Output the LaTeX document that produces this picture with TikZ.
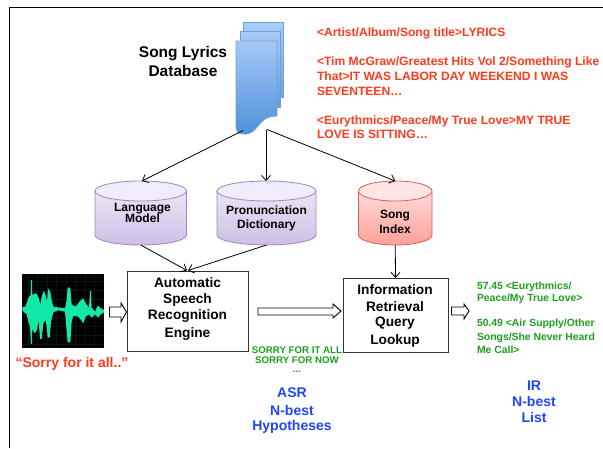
\documentclass[tikz,border=0pt]{standalone}
\usepackage{fontspec}
\setmainfont{Liberation Sans}
\usetikzlibrary{arrows.meta}
\definecolor{redtxt}{HTML}{FF3B1E}
\definecolor{greentxt}{HTML}{1EA01E}
\definecolor{bluetxt}{HTML}{1F45FF}
\definecolor{wavec}{HTML}{12E8A8}
\definecolor{gridc}{HTML}{06141C}
\definecolor{sheetb}{HTML}{6EA0D7}
\definecolor{sheettopa}{HTML}{AACDF8}
\definecolor{sheetbota}{HTML}{6EA3E2}
\definecolor{sheettopb}{HTML}{A8CBF7}
\definecolor{sheetbotb}{HTML}{649BDE}
\definecolor{sheettopc}{HTML}{A5C9F7}
\definecolor{sheetbotc}{HTML}{4E90DA}
\definecolor{purtop}{HTML}{F1ECF9}
\definecolor{purbot}{HTML}{CDBFE4}
\definecolor{purb}{HTML}{9C87BF}
\definecolor{redtop}{HTML}{FFE6E4}
\definecolor{redbot}{HTML}{FF9F99}
\definecolor{redb}{HTML}{D8625C}
\tikzset{
  conn/.style={draw=black,line width=0.8pt,-{Straight Barb[length=5pt,width=9pt,line width=0.8pt]}},
  boxed/.style={draw=black!80,line width=1pt,fill=white,inner sep=0pt,outer sep=0pt},
  blockarrow/.style={draw=black,line width=0.9pt,fill=white,line join=miter},
  sheet/.style={draw=sheetb,line width=0.8pt},
  lab/.style={font=\bfseries\fontsize{#1}{#1}\selectfont,inner sep=0pt,outer sep=0pt},
  holder/.style={inner sep=0pt,outer sep=0pt},
}
% name, x1, x2, top, bottom, topcol, botcol, border
\newcommand{\cylinder}[8]{%
  \pgfmathsetmacro{\cxm}{(#2+#3)/2}%
  \pgfmathsetmacro{\cxr}{(#3-#2)/2}%
  \pgfmathsetmacro{\cym}{(#4+#5)/2}%
  \pgfmathsetmacro{\cw}{#3-#2}%
  \pgfmathsetmacro{\ch}{#5-#4}%
  \shade[top color=#6,bottom color=#7]
    (#2,#4+10) arc[start angle=180,end angle=360,x radius=\cxr,y radius=10]
    -- (#3,#5-10) arc[start angle=0,end angle=180,x radius=\cxr,y radius=10] -- cycle;
  \draw[#8,line width=0.8pt]
    (#2,#4+10) -- (#2,#5-10) arc[start angle=180,end angle=0,x radius=\cxr,y radius=10] -- (#3,#4+10);
  \draw[#8,line width=0.8pt,fill=#6] (\cxm,#4+10) ellipse[x radius=\cxr,y radius=10];
  \node[holder,minimum width=\cw pt,minimum height=\ch pt] (#1) at (\cxm,\cym) {};
}
\begin{document}
\begin{tikzpicture}[x=1pt,y=-1pt]
\useasboundingbox (0,0) rectangle (603,448);
\fill[white] (0,0) rectangle (603,448);
% frame
\draw[black,line width=1.2pt] (9.5,448) -- (9.5,7.5) -- (603,7.5);
% database sheets
\shade[top color=sheettopa,bottom color=sheetbota] (243,22) rectangle (283,97);
\draw[sheet] (243,22) rectangle (283,97);
\shade[top color=sheettopb,bottom color=sheetbotb] (240,31) rectangle (280,107);
\draw[sheet] (240,31) rectangle (280,107);
\shade[top color=sheettopc,bottom color=sheetbotc]
  (236,41) -- (277,41) -- (277,116) .. controls (266,116) and (262,121) .. (258,126)
  .. controls (254,132) and (248,135) .. (243,134) .. controls (238,134) and (236,131) .. (236,128) -- cycle;
\draw[sheet]
  (236,41) -- (277,41) -- (277,116) .. controls (266,116) and (262,121) .. (258,126)
  .. controls (254,132) and (248,135) .. (243,134) .. controls (238,134) and (236,131) .. (236,128) -- cycle;
\coordinate (docl) at (243,130.5);
\coordinate (docm) at (266,129.5);
\coordinate (docr) at (267,129.5);
\node[lab=15.5,align=center] (dbtitle) at (183,61.5) {Song Lyrics\\[3.5pt]Database};
% cylinders
\cylinder{lm}{95}{186.5}{181}{245}{purtop}{purbot}{purb}
\cylinder{pd}{217}{316}{181}{245}{purtop}{purbot}{purb}
\cylinder{si}{358.5}{432}{181}{245}{redtop}{redbot}{redb}
\node[lab=12,align=center] (lmtxt) at (142.5,213) {Language\\[-1.5pt]Model};
\node[lab=12,align=center] (pdtxt) at (266.5,218) {Pronunciation\\[2pt]Dictionary};
\node[lab=12,align=center] (sitxt) at (395,221.5) {Song\\[3pt]Index};
% boxes
\node[boxed,minimum width=121pt,minimum height=80pt] (asr) at (187.5,311) {};
\node[boxed,minimum width=105pt,minimum height=74pt] (ir) at (395.5,315) {};
\node[lab=13.7] (asr1) at (187.5,283) {Automatic};
\node[lab=13.7] (asr2) at (187.5,300) {Speech};
\node[lab=13.7] (asr3) at (187.5,316) {Recognition};
\node[lab=13.7] (asr4) at (187.5,334) {Engine};
\node[lab=13.7] (ir1) at (395,290) {Information};
\node[lab=13.7] (ir2) at (395,307) {Retrieval};
\node[lab=13.7] (ir3) at (395,323) {Query};
\node[lab=13.7] (ir4) at (395,341) {Lookup};
% connectors
\draw[conn] (docl) -- (142,181);
\draw[conn] (docm) -- (pd.north -| docm);
\draw[conn] (docr) -- (si.north);
\draw[conn] (lm.south) -- (187,270.5);
\draw[conn] (pd.south) -- (188,270.5);
\draw[conn] (si.south) -- (ir.north);
% waveform
\node[holder,fill=black,minimum width=82pt,minimum height=74pt] (wave) at (63,311) {};
\begin{scope}
  \clip (22,274) rectangle (104,348);
  \foreach \gx in {28,37.5,47,56.5,66,75.5,85,94.5}
    \draw[gridc,line width=0.5pt] (\gx,274) -- (\gx,348);
  \foreach \gy in {281,290,299,308,317,326,335,344}
    \draw[gridc,line width=0.5pt] (22,\gy) -- (104,\gy);
\end{scope}
\begin{scope}[shift={(15,265)},x=0.3333pt,y=-0.3333pt]
\fill[wavec] (22,127)--(32,124)--(38,105)--(44,92)--(47,92)--(48,45)--(51,45)--(52,90)--(60,85)--(66,88)--(72,100)--(76,120)--(80,95)--(86,78)--(92,90)--(96,110)--(99,70)--(106,80)--(110,105)--(115,125)--(135,128)--(150,130)--(155,105)--(158,68)--(166,68)--(170,118)--(182,125)--(195,108)--(205,100)--(212,115)--(222,128)--(225,78)--(228,78)--(230,128)--(240,140)--(248,122)--(255,128)--(267,135)
--(267,142)--(255,150)--(250,158)--(240,148)--(230,158)--(222,148)--(212,155)--(205,175)--(198,165)--(190,155)--(175,152)--(170,170)--(166,232)--(158,232)--(153,175)--(150,140)--(130,136)--(115,142)--(108,170)--(104,218)--(98,218)--(95,185)--(92,165)--(85,175)--(80,222)--(75,222)--(71,165)--(66,195)--(58,205)--(52,190)--(51,237)--(48,237)--(45,185)--(40,170)--(35,148)--(22,137)--cycle;
\end{scope}
% block arrows
\draw[blockarrow] (109.5,307) -- (121,307) -- (121,303) -- (126.5,312) -- (121,322) -- (121,317) -- (109.5,317) -- cycle;
\draw[blockarrow] (258,308) -- (333,308) -- (333,304) -- (341,311) -- (333,318) -- (333,315) -- (258,315) -- cycle;
\draw[blockarrow] (451.5,307) -- (464,307) -- (464,304) -- (469,311) -- (464,319) -- (464,315) -- (451.5,315) -- cycle;
% red texts
\node[inner sep=0pt,outer sep=0pt,text=redtxt,align=left,anchor=west,font=\bfseries\fontsize{12.1}{14.6}\selectfont] (lyrics) at (317,83.5) {<Artist/Album/Song title>LYRICS\\ \\<Tim McGraw/Greatest Hits Vol 2/Something Like\\That>IT WAS LABOR DAY WEEKEND I WAS\\SEVENTEEN…\\ \\<Eurythmics/Peace/My True Love>MY TRUE\\LOVE IS SITTING…};
\node[lab=14,text=redtxt] (sorry) at (72,364) {“Sorry for it all..”};
% green texts
\node[lab=9.7,text=greentxt] (g1) at (297,350) {SORRY FOR IT ALL};
\node[lab=9.7,text=greentxt] (g2) at (297,360.5) {SORRY FOR NOW};
\node[lab=9.7,text=greentxt] (g3) at (297,372) {...};
\node[lab=10.4,text=greentxt,anchor=west] (r1) at (477,287) {57.45 <Eurythmics/};
\node[lab=10.4,text=greentxt,anchor=west] (r2) at (477,298.5) {Peace/My True Love>};
\node[lab=10.4,text=greentxt,anchor=west] (r3) at (477,323.5) {50.49 <Air Supply/Other};
\node[lab=10.4,text=greentxt,anchor=west] (r4) at (477,337.5) {Songs/She Never Heard};
\node[lab=10.4,text=greentxt,anchor=west] (r5) at (477,349.5) {Me Call>};
% blue texts
\node[lab=14,text=bluetxt] (b1) at (292,393) {ASR};
\node[lab=14,text=bluetxt] (b2) at (292,410) {N-best};
\node[lab=14,text=bluetxt] (b3) at (292,426.5) {Hypotheses};
\node[lab=14,text=bluetxt] (b4) at (534,386) {IR};
\node[lab=14,text=bluetxt] (b5) at (534,401.5) {N-best};
\node[lab=14,text=bluetxt] (b6) at (534,417) {List};
\end{tikzpicture}
\end{document}
